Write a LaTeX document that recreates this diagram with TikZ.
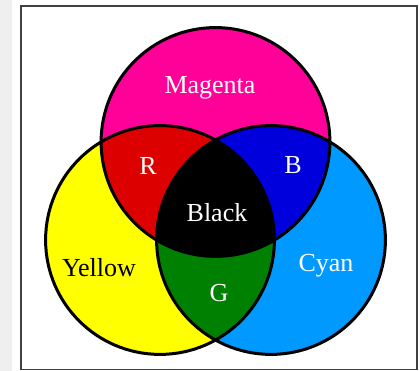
\documentclass[tikz,border=0pt]{standalone}
\usepackage{fontspec}
\setmainfont{Liberation Serif}
\definecolor{cmag}{HTML}{FF0099}
\definecolor{cyel}{HTML}{FFFF00}
\definecolor{ccya}{HTML}{0099FF}
\definecolor{cred}{HTML}{DD0000}
\definecolor{cblu}{HTML}{0000DD}
\definecolor{cgrn}{HTML}{008000}
\definecolor{side}{HTML}{EFEFEF}
\begin{document}
\begin{tikzpicture}[x=1pt,y=-1pt,
  lbl/.style={font=\fontsize{26}{26}\selectfont, inner sep=0pt, text=white},
  ring/.style={draw=black, line width=3pt}]
\useasboundingbox (0,0) rectangle (420,371);
\fill[white] (0,0) rectangle (420,371);
\fill[side] (0,0) rectangle (12,371);
\draw[line width=1.8pt, black!75] (21,6) rectangle (417,369.5);
\coordinate (M) at (215.5,142);
\coordinate (Y) at (160,240);
\coordinate (C) at (271,240);
\def\rr{114.4pt}
\fill[cyel] (Y) circle (\rr);
\fill[ccya] (C) circle (\rr);
\fill[cmag] (M) circle (\rr);
\begin{scope}
  \clip (M) circle (\rr);
  \fill[cred] (Y) circle (\rr);
  \fill[cblu] (C) circle (\rr);
\end{scope}
\begin{scope}
  \clip (Y) circle (\rr);
  \fill[cgrn] (C) circle (\rr);
\end{scope}
\begin{scope}
  \clip (M) circle (\rr);
  \clip (Y) circle (\rr);
  \fill[black] (C) circle (\rr);
\end{scope}
\draw[ring] (M) circle (\rr);
\draw[ring] (Y) circle (\rr);
\draw[ring] (C) circle (\rr);
\node[lbl] (tmag) at (210,88) {Magenta};
\node[lbl] (tr) at (148,166) {R};
\node[lbl] (tb) at (293,165) {B};
\node[lbl] (tblack) at (217,213) {Black};
\node[lbl, text=black] (tyel) at (99,268) {Yellow};
\node[lbl] (tg) at (219,293) {G};
\node[lbl] (tcya) at (326,266) {Cyan};
\end{tikzpicture}
\end{document}
